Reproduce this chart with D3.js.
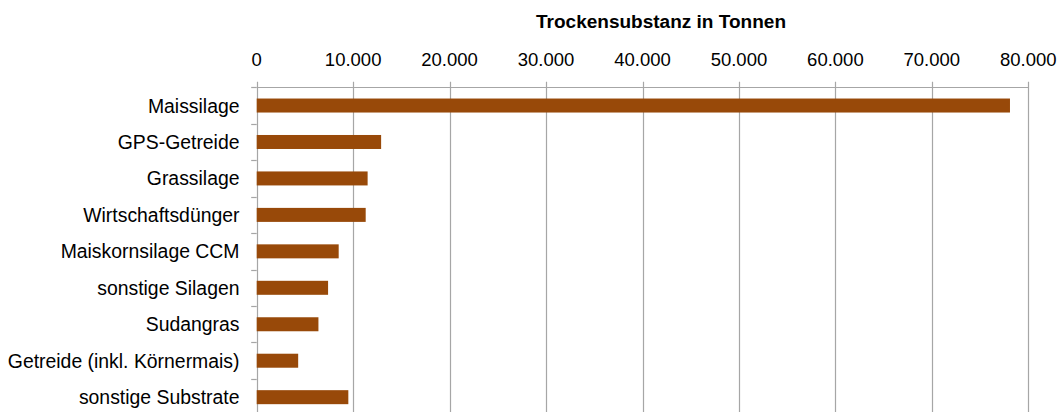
<!DOCTYPE html>
<html>
<head>
<meta charset="utf-8">
<script src="https://cdn.jsdelivr.net/npm/d3@7"></script>
<style>
  body { margin: 0; background: #fff; }
  svg { display: block; }
  text { font-family: "Liberation Sans", Arial, sans-serif; fill: #000; }
</style>
</head>
<body>
<svg id="chart" width="1061" height="412"></svg>
<script>
// Trockensubstanz der eingesetzten Substrate
const categories = [
  "Maissilage",
  "GPS-Getreide",
  "Grassilage",
  "Wirtschaftsdünger",
  "Maiskornsilage CCM",
  "sonstige Silagen",
  "Sudangras",
  "Getreide (inkl. Körnermais)",
  "sonstige Substrate"
];
const values = [78100, 12900, 11500, 11300, 8500, 7400, 6400, 4300, 9500];
const tickValues = [0, 10000, 20000, 30000, 40000, 50000, 60000, 70000, 80000];
const axisTitle = "Trockensubstanz in Tonnen";

const svg = d3.select("#chart");
const plotLeft = 256.7, plotRight = 1028.3, plotTop = 87.3, plotBottom = 415.4;
const gridColor = "#a6a6a6";
const barColor = "#984909";

const x = d3.scaleLinear().domain([0, 80000]).range([plotLeft, plotRight]);
const y = d3.scaleBand().domain(categories).range([plotTop, plotBottom]).padding(0);

const fmt = v => d3.format(",")(v).replace(/,/g, ".");

// vertical gridlines (also serve as outward ticks above the axis)
svg.append("g").selectAll("line").data(tickValues).join("line")
  .attr("x1", d => Math.round(x(d)) + 0.5).attr("x2", d => Math.round(x(d)) + 0.5)
  .attr("y1", plotTop - 5.5).attr("y2", plotBottom)
  .attr("stroke", gridColor).attr("stroke-width", 1.2);

// top axis line
svg.append("line")
  .attr("x1", plotLeft).attr("x2", Math.round(plotRight) + 1)
  .attr("y1", Math.round(plotTop) + 0.5).attr("y2", Math.round(plotTop) + 0.5)
  .attr("stroke", gridColor).attr("stroke-width", 1.2);

// category tick marks on the left axis
const bounds = categories.map(c => y(c)).concat([plotBottom]);
svg.append("g").selectAll("line").data(bounds).join("line")
  .attr("x1", plotLeft - 5.5).attr("x2", plotLeft)
  .attr("y1", d => Math.round(d) + 0.5).attr("y2", d => Math.round(d) + 0.5)
  .attr("stroke", gridColor).attr("stroke-width", 1.2);

// tick labels
svg.append("g").selectAll("text").data(tickValues).join("text")
  .attr("x", d => x(d)).attr("y", 66)
  .attr("text-anchor", "middle")
  .style("font-size", "18.5px")
  .text(d => fmt(d));

// axis title
svg.append("text")
  .attr("x", 661).attr("y", 28)
  .attr("text-anchor", "middle")
  .attr("textLength", 250)
  .attr("lengthAdjust", "spacingAndGlyphs")
  .style("font-size", "17.5px").style("font-weight", "bold")
  .text(axisTitle);

// bars
const barH = 14;
svg.append("g").selectAll("rect").data(categories).join("rect")
  .attr("x", x(0))
  .attr("y", (d) => y(d) + y.bandwidth() / 2 - barH / 2)
  .attr("width", (d, i) => x(values[i]) - x(0))
  .attr("height", barH)
  .attr("fill", barColor);

// category labels
svg.append("g").selectAll("text").data(categories).join("text")
  .attr("x", 239.5)
  .attr("y", d => y(d) + y.bandwidth() / 2)
  .attr("dy", "0.36em")
  .attr("text-anchor", "end")
  .style("font-size", "19.4px")
  .text(d => d);
</script>
</body>
</html>
